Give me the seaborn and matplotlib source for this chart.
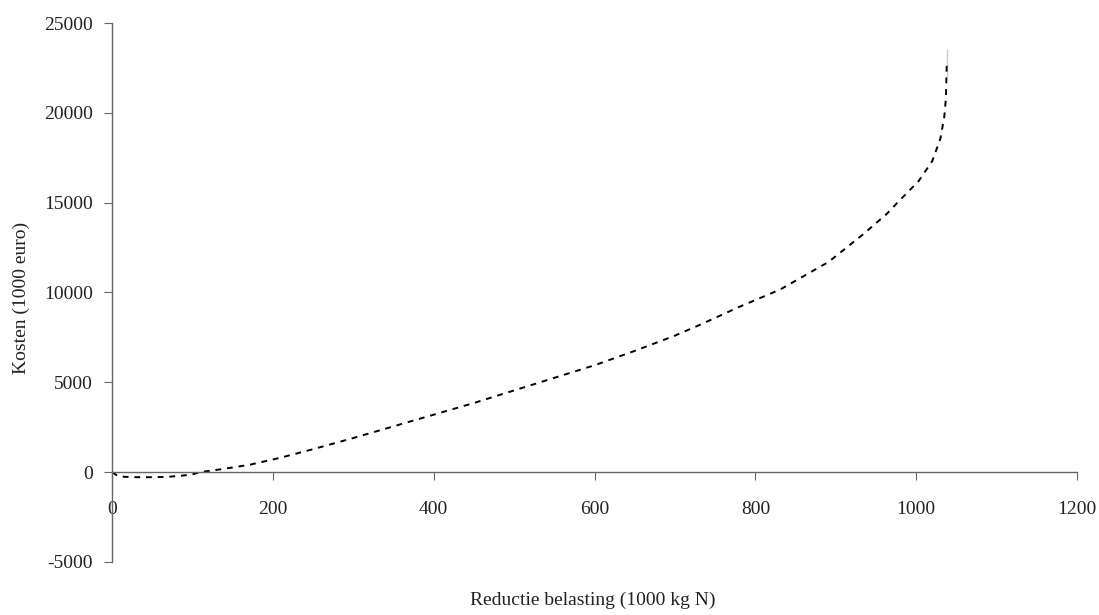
import pandas as pd
import matplotlib.pyplot as plt
import seaborn as sns

# values
reductie = [0, 5, 15, 30, 50, 70, 90, 101, 109, 140, 172, 209, 250, 300, 350,
            400, 450, 500, 550, 600, 650, 700, 731, 780, 831, 891, 934, 964,
            976, 1003, 1020, 1030, 1035, 1037, 1038, 1038]
kosten = [0, -150, -260, -280, -280, -260, -180, -110, 0, 190, 420, 800, 1280,
          1900, 2550, 3200, 3850, 4550, 5250, 5950, 6750, 7600, 8200, 9200,
          10170, 11700, 13240, 14400, 14970, 16200, 17320, 18550, 19800, 20840,
          22000, 23570]

df = pd.DataFrame({"Reductie": reductie, "Kosten": kosten})

sns.set_style("ticks")
plt.rcParams["font.family"] = ["Liberation Serif", "DejaVu Serif"]
plt.rcParams["axes.unicode_minus"] = False

fig = plt.figure(figsize=(10.99, 6.15), dpi=100)
ax = fig.add_axes([0.102, 0.0862, 0.878, 0.8764])

sns.lineplot(data=df, x="Reductie", y="Kosten", ax=ax, sort=False,
             color="black", linewidth=1.4, linestyle=(0, (3, 3)))

ax.set_xlim(0, 1200)
ax.set_ylim(-5000, 25000)
ax.set_xticks(range(0, 1201, 200))
ax.set_yticks(range(-5000, 25001, 5000))
ax.spines["top"].set_visible(False)
ax.spines["right"].set_visible(False)
ax.spines["bottom"].set_position(("data", 0))
for s in ["left", "bottom"]:
    ax.spines[s].set_color("#666666")
    ax.spines[s].set_linewidth(1.0)
ax.tick_params(colors="#666666", labelcolor="#222222", labelsize=14,
               length=6)
ax.tick_params(axis="y", pad=8)
ax.tick_params(axis="x", pad=15)
ax.set_xlabel("")
ax.set_ylabel("")

fig.text(0.539, 0.024, "Reductie belasting (1000 kg N)", ha="center",
         va="center", fontsize=14, color="#222222")
fig.text(0.019, 0.515, "Kosten (1000 euro)", ha="center", va="center",
         rotation=90, fontsize=14, color="#222222")

fig.savefig("out.png", dpi=100)
